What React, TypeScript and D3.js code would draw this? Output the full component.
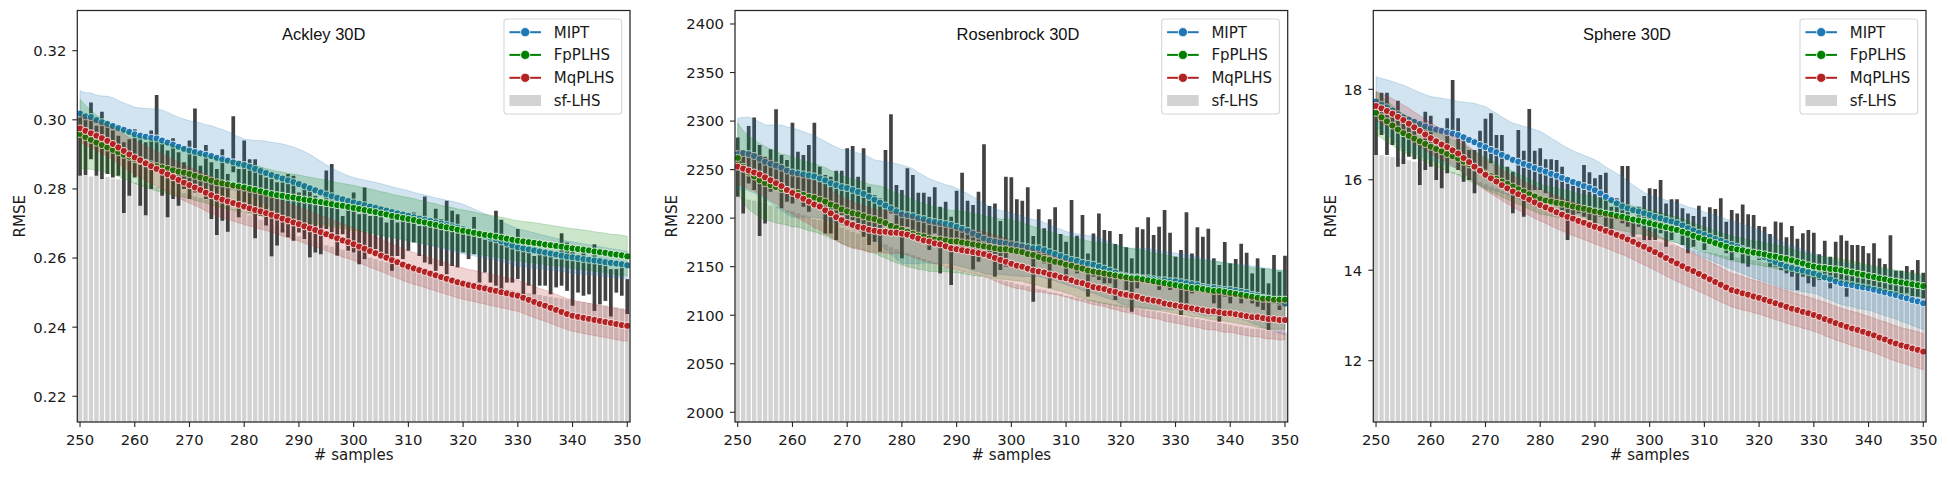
import * as d3 from "d3";

// sample counts on the x axis (categorical, as in a seaborn barplot)
const samples = d3.range(250, 351);
const xTickValues = [250, 260, 270, 280, 290, 300, 310, 320, 330, 340, 350];

// ---------------- Ackley 30D ----------------
const ackleyBar = [
  0.2838, 0.2840, 0.2836, 0.2838, 0.2832, 0.2835, 0.2830, 0.2828, 0.2826, 0.2822,
  0.2818, 0.2815, 0.2812, 0.2810, 0.2806, 0.2803, 0.2800, 0.2796, 0.2792, 0.2788,
  0.2782, 0.2778, 0.2774, 0.2769, 0.2763, 0.2757, 0.2752, 0.2747, 0.2741, 0.2736,
  0.2730, 0.2724, 0.2717, 0.2711, 0.2703, 0.2697, 0.2690, 0.2684, 0.2677, 0.2670,
  0.2663, 0.2657, 0.2652, 0.2647, 0.2642, 0.2637, 0.2633, 0.2628, 0.2624, 0.2619,
  0.2614, 0.2610, 0.2605, 0.2601, 0.2597, 0.2592, 0.2588, 0.2584, 0.2580, 0.2576,
  0.2572, 0.2568, 0.2565, 0.2561, 0.2558, 0.2554, 0.2551, 0.2547, 0.2544, 0.2540,
  0.2537, 0.2534, 0.2530, 0.2527, 0.2524, 0.2520, 0.2517, 0.2514, 0.2510, 0.2507,
  0.2503, 0.2500, 0.2498, 0.2495, 0.2493, 0.2490, 0.2488, 0.2485, 0.2483, 0.2480,
  0.2478, 0.2475, 0.2473, 0.2470, 0.2468, 0.2465, 0.2463, 0.2460, 0.2458, 0.2455,
  0.2450,
];
const ackleyErrHi = [
  0.3016, 0.3002, 0.3050, 0.2983, 0.3023, 0.2983, 0.2969, 0.2954, 0.2935, 0.2944,
  0.2973, 0.2944, 0.2935, 0.2969, 0.3072, 0.2930, 0.2911, 0.2947, 0.2906, 0.2877,
  0.2940, 0.3033, 0.2867, 0.2927, 0.2877, 0.2858, 0.2915, 0.2843, 0.3010, 0.2858,
  0.2940, 0.2886, 0.2886, 0.2858, 0.2833, 0.2829, 0.2819, 0.2819, 0.2843, 0.2838,
  0.2790, 0.2809, 0.2800, 0.2780, 0.2751, 0.2853, 0.2872, 0.2761, 0.2722, 0.2751,
  0.2790, 0.2727, 0.2804, 0.2722, 0.2722, 0.2722, 0.2703, 0.2713, 0.2703, 0.2734,
  0.2713, 0.2732, 0.2693, 0.2778, 0.2693, 0.2743, 0.2713, 0.2766, 0.2737, 0.2727,
  0.2688, 0.2684, 0.2719, 0.2679, 0.2669, 0.2674, 0.2737, 0.2711, 0.2655, 0.2640,
  0.2684, 0.2626, 0.2621, 0.2606, 0.2611, 0.2616, 0.2606, 0.2597, 0.2672, 0.2645,
  0.2626, 0.2592, 0.2635, 0.2587, 0.2640, 0.2587, 0.2577, 0.2568, 0.2568, 0.2573,
  0.2539,
];
const ackleyErrLo = [
  0.2838, 0.2840, 0.2886, 0.2838, 0.2829, 0.2843, 0.2833, 0.2838, 0.2730, 0.2780,
  0.2833, 0.2751, 0.2724, 0.2800, 0.2858, 0.2780, 0.2718, 0.2771, 0.2751, 0.2800,
  0.2771, 0.2790, 0.2790, 0.2771, 0.2713, 0.2667, 0.2708, 0.2676, 0.2848, 0.2718,
  0.2761, 0.2732, 0.2657, 0.2722, 0.2694, 0.2605, 0.2636, 0.2674, 0.2660, 0.2650,
  0.2674, 0.2655, 0.2602, 0.2616, 0.2611, 0.2684, 0.2674, 0.2607, 0.2669, 0.2621,
  0.2616, 0.2582, 0.2597, 0.2616, 0.2626, 0.2611, 0.2597, 0.2563, 0.2606, 0.2597,
  0.2621, 0.2645, 0.2606, 0.2587, 0.2582, 0.2563, 0.2577, 0.2553, 0.2577, 0.2573,
  0.2616, 0.2597, 0.2611, 0.2529, 0.2558, 0.2529, 0.2520, 0.2510, 0.2529, 0.2529,
  0.2539, 0.2495, 0.2520, 0.2495, 0.2520, 0.2520, 0.2495, 0.2515, 0.2520, 0.2505,
  0.2462, 0.2500, 0.2491, 0.2495, 0.2447, 0.2466, 0.2476, 0.2431, 0.2500, 0.2491,
  0.2438,
];
const ackleyMipt = [
  0.3018, 0.3010, 0.3008, 0.2999, 0.2993, 0.2988, 0.2982, 0.2976, 0.2971, 0.2965,
  0.2958, 0.2954, 0.2951, 0.2948, 0.2946, 0.2940, 0.2934, 0.2928, 0.2922, 0.2916,
  0.2911, 0.2907, 0.2903, 0.2899, 0.2895, 0.2890, 0.2886, 0.2882, 0.2877, 0.2873,
  0.2869, 0.2864, 0.2858, 0.2852, 0.2846, 0.2840, 0.2835, 0.2830, 0.2825, 0.2820,
  0.2814, 0.2808, 0.2802, 0.2796, 0.2790, 0.2784, 0.2779, 0.2774, 0.2770, 0.2765,
  0.2761, 0.2757, 0.2753, 0.2749, 0.2745, 0.2741, 0.2737, 0.2733, 0.2729, 0.2726,
  0.2722, 0.2718, 0.2714, 0.2711, 0.2707, 0.2703, 0.2700, 0.2696, 0.2692, 0.2688,
  0.2684, 0.2679, 0.2674, 0.2669, 0.2664, 0.2659, 0.2654, 0.2648, 0.2642, 0.2636,
  0.2631, 0.2628, 0.2625, 0.2622, 0.2619, 0.2616, 0.2613, 0.2610, 0.2607, 0.2604,
  0.2602, 0.2600, 0.2597, 0.2595, 0.2593, 0.2591, 0.2588, 0.2586, 0.2584, 0.2582,
  0.2579,
];
const ackleyMiptCi = [
  0.0066, 0.0068, 0.0070, 0.0072, 0.0076, 0.0080, 0.0082, 0.0080, 0.0078, 0.0078,
  0.0078, 0.0080, 0.0082, 0.0084, 0.0086, 0.0088, 0.0088, 0.0086, 0.0085, 0.0086,
  0.0086, 0.0087, 0.0088, 0.0087, 0.0088, 0.0087, 0.0086, 0.0084, 0.0080, 0.0078,
  0.0075, 0.0078, 0.0082, 0.0088, 0.0092, 0.0095, 0.0098, 0.0100, 0.0101, 0.0101,
  0.0101, 0.0100, 0.0098, 0.0094, 0.0090, 0.0086, 0.0082, 0.0078, 0.0075, 0.0073,
  0.0072, 0.0072, 0.0073, 0.0073, 0.0074, 0.0074, 0.0074, 0.0073, 0.0073, 0.0073,
  0.0073, 0.0072, 0.0072, 0.0072, 0.0071, 0.0071, 0.0071, 0.0071, 0.0072, 0.0072,
  0.0072, 0.0070, 0.0068, 0.0066, 0.0064, 0.0062, 0.0060, 0.0058, 0.0056, 0.0055,
  0.0054, 0.0053, 0.0052, 0.0051, 0.0050, 0.0049, 0.0048, 0.0047, 0.0046, 0.0045,
  0.0045, 0.0044, 0.0044, 0.0043, 0.0043, 0.0042, 0.0042, 0.0041, 0.0041, 0.0040,
  0.0040,
];
const ackleyFp = [
  0.2959, 0.2950, 0.2942, 0.2934, 0.2927, 0.2920, 0.2913, 0.2906, 0.2899, 0.2893,
  0.2886, 0.2881, 0.2876, 0.2871, 0.2866, 0.2862, 0.2858, 0.2854, 0.2850, 0.2847,
  0.2843, 0.2838, 0.2833, 0.2829, 0.2824, 0.2819, 0.2816, 0.2813, 0.2810, 0.2807,
  0.2804, 0.2800, 0.2797, 0.2793, 0.2789, 0.2785, 0.2782, 0.2780, 0.2777, 0.2775,
  0.2772, 0.2769, 0.2767, 0.2764, 0.2762, 0.2759, 0.2756, 0.2753, 0.2751, 0.2748,
  0.2745, 0.2742, 0.2739, 0.2736, 0.2733, 0.2729, 0.2726, 0.2722, 0.2719, 0.2716,
  0.2713, 0.2710, 0.2706, 0.2703, 0.2699, 0.2696, 0.2692, 0.2689, 0.2686, 0.2682,
  0.2679, 0.2676, 0.2673, 0.2670, 0.2667, 0.2665, 0.2662, 0.2659, 0.2656, 0.2653,
  0.2650, 0.2648, 0.2646, 0.2644, 0.2642, 0.2639, 0.2637, 0.2635, 0.2633, 0.2630,
  0.2628, 0.2626, 0.2624, 0.2622, 0.2619, 0.2617, 0.2615, 0.2612, 0.2610, 0.2608,
  0.2605,
];
const ackleyFpCi = [
  0.0100, 0.0092, 0.0085, 0.0080, 0.0076, 0.0073, 0.0071, 0.0070, 0.0070, 0.0070,
  0.0070, 0.0071, 0.0071, 0.0072, 0.0072, 0.0072, 0.0072, 0.0072, 0.0071, 0.0071,
  0.0071, 0.0071, 0.0070, 0.0070, 0.0070, 0.0070, 0.0070, 0.0071, 0.0071, 0.0072,
  0.0072, 0.0072, 0.0071, 0.0071, 0.0070, 0.0070, 0.0069, 0.0069, 0.0068, 0.0068,
  0.0068, 0.0068, 0.0067, 0.0067, 0.0066, 0.0066, 0.0066, 0.0065, 0.0065, 0.0065,
  0.0065, 0.0064, 0.0064, 0.0064, 0.0063, 0.0063, 0.0063, 0.0062, 0.0062, 0.0062,
  0.0062, 0.0062, 0.0061, 0.0061, 0.0061, 0.0061, 0.0060, 0.0060, 0.0060, 0.0060,
  0.0060, 0.0060, 0.0060, 0.0059, 0.0059, 0.0059, 0.0059, 0.0059, 0.0059, 0.0058,
  0.0058, 0.0058, 0.0058, 0.0058, 0.0058, 0.0058, 0.0058, 0.0057, 0.0057, 0.0057,
  0.0057, 0.0057, 0.0057, 0.0057, 0.0057, 0.0057, 0.0057, 0.0057, 0.0058, 0.0058,
  0.0058,
];
const ackleyMq = [
  0.2975, 0.2968, 0.2961, 0.2954, 0.2947, 0.2939, 0.2930, 0.2920, 0.2910, 0.2900,
  0.2891, 0.2883, 0.2874, 0.2866, 0.2858, 0.2850, 0.2842, 0.2834, 0.2826, 0.2818,
  0.2811, 0.2804, 0.2797, 0.2789, 0.2782, 0.2775, 0.2769, 0.2764, 0.2759, 0.2754,
  0.2749, 0.2744, 0.2739, 0.2735, 0.2730, 0.2725, 0.2720, 0.2714, 0.2709, 0.2703,
  0.2698, 0.2692, 0.2686, 0.2681, 0.2675, 0.2669, 0.2663, 0.2657, 0.2651, 0.2646,
  0.2640, 0.2633, 0.2627, 0.2620, 0.2614, 0.2607, 0.2601, 0.2594, 0.2588, 0.2581,
  0.2575, 0.2570, 0.2565, 0.2560, 0.2555, 0.2550, 0.2545, 0.2540, 0.2535, 0.2530,
  0.2526, 0.2522, 0.2519, 0.2515, 0.2512, 0.2508, 0.2505, 0.2501, 0.2498, 0.2494,
  0.2491, 0.2485, 0.2479, 0.2473, 0.2467, 0.2462, 0.2456, 0.2450, 0.2444, 0.2438,
  0.2433, 0.2430, 0.2427, 0.2424, 0.2421, 0.2418, 0.2415, 0.2412, 0.2409, 0.2406,
  0.2404,
];
const ackleyMqCi = [
  0.0040, 0.0041, 0.0042, 0.0043, 0.0044, 0.0045, 0.0046, 0.0047, 0.0048, 0.0048,
  0.0049, 0.0049, 0.0050, 0.0050, 0.0050, 0.0051, 0.0051, 0.0051, 0.0052, 0.0052,
  0.0052, 0.0052, 0.0052, 0.0053, 0.0053, 0.0053, 0.0053, 0.0052, 0.0052, 0.0052,
  0.0052, 0.0051, 0.0051, 0.0051, 0.0050, 0.0050, 0.0050, 0.0050, 0.0049, 0.0049,
  0.0049, 0.0049, 0.0049, 0.0048, 0.0048, 0.0048, 0.0048, 0.0048, 0.0048, 0.0047,
  0.0047, 0.0047, 0.0047, 0.0047, 0.0047, 0.0046, 0.0046, 0.0046, 0.0046, 0.0046,
  0.0046, 0.0046, 0.0045, 0.0045, 0.0045, 0.0045, 0.0045, 0.0045, 0.0045, 0.0045,
  0.0045, 0.0045, 0.0045, 0.0045, 0.0045, 0.0045, 0.0045, 0.0045, 0.0045, 0.0045,
  0.0045, 0.0045, 0.0045, 0.0045, 0.0045, 0.0045, 0.0045, 0.0045, 0.0045, 0.0045,
  0.0045, 0.0045, 0.0045, 0.0045, 0.0045, 0.0045, 0.0045, 0.0045, 0.0045, 0.0045,
  0.0045,
];
const ackleyTicks = [0.22, 0.24, 0.26, 0.28, 0.3, 0.32];

// ---------------- Rosenbrock 30D ----------------
const rosenBar = [
  2222, 2221, 2219, 2218, 2216, 2215, 2213, 2212, 2210, 2208,
  2207, 2205, 2203, 2201, 2199, 2198, 2196, 2194, 2192, 2190,
  2188, 2186, 2184, 2182, 2179, 2177, 2175, 2173, 2170, 2168,
  2166, 2164, 2162, 2160, 2158, 2156, 2154, 2152, 2150, 2148,
  2146, 2145, 2143, 2142, 2141, 2139, 2138, 2137, 2136, 2135,
  2134, 2132, 2131, 2130, 2128, 2127, 2126, 2124, 2123, 2122,
  2120, 2119, 2118, 2117, 2116, 2115, 2114, 2113, 2112, 2111,
  2110, 2109, 2108, 2107, 2106, 2105, 2104, 2103, 2102, 2101,
  2100, 2099, 2098, 2097, 2096, 2095, 2094, 2093, 2092, 2091,
  2090, 2089, 2088, 2087, 2086, 2086, 2085, 2084, 2083, 2083,
  2082,
];
const rosenErrHi = [
  2283.2, 2266.7, 2294.9, 2303.8, 2275.3, 2263.3, 2270.9, 2312.1, 2265.0, 2259.9,
  2298.3, 2268.5, 2265.0, 2275.3, 2298.3, 2253.0, 2244.4, 2242.7, 2248.9, 2248.9,
  2271.9, 2274.3, 2242.7, 2271.9, 2232.4, 2223.8, 2220.4, 2270.2, 2306.9, 2234.1,
  2229.0, 2251.3, 2244.4, 2226.2, 2226.2, 2222.1, 2231.7, 2211.8, 2216.9, 2201.5,
  2228.3, 2246.8, 2218.0, 2213.5, 2227.3, 2276.0, 2212.5, 2215.2, 2197.0, 2242.7,
  2242.0, 2219.4, 2218.0, 2231.7, 2181.6, 2209.1, 2189.5, 2198.8, 2211.1, 2183.7,
  2175.8, 2218.7, 2181.9, 2203.2, 2163.7, 2184.3, 2204.9, 2187.8, 2186.7, 2173.3,
  2183.7, 2169.9, 2158.6, 2190.5, 2188.5, 2200.8, 2182.6, 2191.2, 2208.4, 2185.0,
  2160.3, 2167.2, 2206.0, 2163.7, 2190.5, 2180.9, 2189.1, 2158.6, 2151.7, 2175.4,
  2153.4, 2157.9, 2173.7, 2164.4, 2143.1, 2158.6, 2148.3, 2132.8, 2162.0, 2144.8,
  2161.3,
];
const rosenErrLo = [
  2222.1, 2204.9, 2235.8, 2229.0, 2181.6, 2194.6, 2227.3, 2229.0, 2210.1, 2216.9,
  2215.2, 2218.7, 2211.8, 2206.7, 2218.7, 2211.8, 2184.3, 2184.3, 2177.5, 2203.2,
  2191.2, 2198.1, 2191.2, 2180.9, 2172.3, 2175.7, 2165.5, 2198.1, 2204.9, 2184.3,
  2158.6, 2191.2, 2187.8, 2184.3, 2177.5, 2167.2, 2184.3, 2143.1, 2177.5, 2131.1,
  2172.3, 2163.7, 2170.6, 2147.2, 2155.1, 2170.6, 2160.3, 2139.7, 2146.6, 2150.0,
  2174.0, 2168.9, 2170.6, 2170.6, 2113.9, 2156.9, 2153.4, 2127.7, 2156.9, 2153.4,
  2139.7, 2151.7, 2143.1, 2146.6, 2119.1, 2139.7, 2136.3, 2132.8, 2132.8, 2115.7,
  2139.7, 2126.0, 2103.6, 2127.7, 2139.7, 2139.7, 2139.7, 2126.0, 2136.3, 2126.0,
  2132.8, 2100.2, 2112.2, 2122.5, 2126.0, 2132.8, 2126.0, 2112.2, 2093.3, 2119.1,
  2112.2, 2122.5, 2112.2, 2122.5, 2112.2, 2108.8, 2105.4, 2084.8, 2112.2, 2105.4,
  2119.1,
];
const rosenMipt = [
  2266, 2267, 2266, 2264, 2261, 2258, 2256, 2254, 2252, 2249,
  2247, 2246, 2245, 2244, 2243, 2241, 2239, 2236, 2234, 2232,
  2231, 2229, 2227, 2225, 2222, 2219, 2216, 2213, 2210, 2207,
  2204, 2203, 2202, 2200, 2199, 2197, 2196, 2195, 2194, 2193,
  2191, 2189, 2187, 2184, 2182, 2179, 2177, 2176, 2175, 2174,
  2173, 2172, 2171, 2170, 2169, 2169, 2167, 2165, 2163, 2161,
  2159, 2157, 2156, 2154, 2153, 2152, 2150, 2148, 2146, 2144,
  2141, 2140, 2139, 2139, 2138, 2138, 2137, 2136, 2136, 2135,
  2135, 2134, 2133, 2132, 2131, 2129, 2128, 2128, 2127, 2126,
  2126, 2125, 2124, 2123, 2121, 2120, 2118, 2117, 2115, 2114,
  2112,
];
const rosenMiptCi = [
  37, 37, 38, 38, 38, 38, 40, 42, 44, 45,
  46, 45, 44, 43, 42, 41, 40, 40, 39, 39,
  39.5, 40, 40, 40.5, 41, 41, 43, 45, 47, 49,
  50.5, 50, 49, 47, 45, 43.6, 42.5, 41.5, 40.5, 40,
  39.7, 39, 38.5, 38, 37, 36, 35, 34, 33, 32.5,
  32.2, 31.5, 31, 30, 29.5, 29, 28.5, 28, 27.5, 27.5,
  27.4, 27.5, 28, 28.5, 29, 29.3, 29.5, 29.5, 29.3, 29.2,
  29.2, 29.5, 30, 30.3, 30.6, 30.9, 30.5, 30, 29.6, 29.3,
  29.2, 29, 29, 29.1, 29.2, 29.2, 29, 28.5, 28, 27.6,
  27.4, 27.8, 28.2, 28.8, 29.5, 30.2, 30.8, 31.4, 31.9, 32.3,
  32.6,
];
const rosenFp = [
  2262, 2253, 2247, 2243, 2239, 2236, 2234, 2232, 2230, 2229,
  2227, 2226, 2224, 2222, 2221, 2219, 2217, 2214, 2212, 2209,
  2207, 2205, 2204, 2202, 2200, 2199, 2197, 2195, 2192, 2190,
  2188, 2186, 2184, 2182, 2181, 2179, 2178, 2178, 2177, 2176,
  2176, 2175, 2174, 2173, 2172, 2171, 2170, 2169, 2168, 2168,
  2167, 2166, 2165, 2163, 2162, 2160, 2158, 2157, 2155, 2154,
  2152, 2151, 2149, 2148, 2146, 2145, 2144, 2143, 2142, 2141,
  2140, 2139, 2138, 2138, 2137, 2136, 2135, 2134, 2133, 2132,
  2131, 2130, 2129, 2128, 2128, 2127, 2126, 2125, 2125, 2124,
  2123, 2122, 2121, 2120, 2119, 2118, 2117, 2117, 2116, 2116,
  2116,
];
const rosenFpCi = [
  36, 37, 38, 38, 38, 38, 37, 37, 36, 36,
  36, 35, 35, 35, 35, 35, 35, 35, 35, 35,
  35, 35, 35, 35, 35, 35, 36, 36, 36, 36,
  36, 36, 35, 35, 34, 34, 33, 33, 32, 32,
  32, 32, 32, 32, 31.5, 31.5, 31.5, 31, 31, 31,
  31, 30.5, 30, 30, 29.5, 29.5, 29, 29, 29, 29,
  29, 29.5, 30, 30, 30.5, 30.5, 31, 31, 31, 31,
  31, 30.5, 30.5, 30, 30, 29.5, 29.5, 29, 29, 29,
  29, 29, 29, 29.5, 29.5, 29.5, 30, 30, 30, 30,
  30, 30, 30, 30, 30, 30.5, 30.5, 30.5, 30.5, 30.5,
  30.5,
];
const rosenMq = [
  2253, 2251, 2249, 2247, 2245, 2242, 2239, 2236, 2233, 2229,
  2226, 2223, 2220, 2217, 2214, 2212, 2208, 2205, 2201, 2198,
  2195, 2193, 2191, 2190, 2188, 2187, 2186, 2186, 2185, 2185,
  2184, 2183, 2181, 2179, 2177, 2176, 2174, 2173, 2171, 2169,
  2168, 2167, 2166, 2165, 2164, 2163, 2161, 2159, 2157, 2155,
  2153, 2151, 2150, 2148, 2146, 2145, 2144, 2142, 2141, 2139,
  2138, 2136, 2134, 2133, 2131, 2129, 2128, 2127, 2125, 2124,
  2122, 2121, 2120, 2119, 2117, 2116, 2115, 2114, 2112, 2111,
  2110, 2109, 2108, 2107, 2106, 2105, 2104, 2104, 2103, 2102,
  2102, 2101, 2100, 2099, 2098, 2098, 2097, 2096, 2096, 2095,
  2095,
];
const rosenMqCi = [
  18, 18, 19, 19, 20, 20, 21, 21, 22, 22,
  22, 23, 23, 23, 24, 24, 24, 24, 24, 24,
  24, 24, 23, 23, 23, 22, 22, 22, 22, 21,
  21, 21, 21, 21, 21, 21, 21, 21, 21, 21,
  21, 21.5, 22, 22, 22.5, 23, 23, 23.5, 24, 24,
  24, 23.5, 23, 22.5, 22, 21, 20.5, 20, 19.5, 19,
  19, 19, 18.5, 18.5, 18.5, 18, 18, 18, 18, 18,
  18, 18, 18, 18, 18, 18, 18, 18, 18, 18,
  18, 18, 18.5, 18.5, 18.5, 19, 19, 19, 19.5, 19.5,
  19.5, 19.5, 20, 20, 20, 20, 20.5, 20.5, 20.5, 20.5,
  20.5,
];
const rosenTicks = [2000, 2050, 2100, 2150, 2200, 2250, 2300, 2350, 2400];

// ---------------- Sphere 30D ----------------
const sphereBar = [
  16.55, 16.54, 16.52, 16.50, 16.48, 16.46, 16.43, 16.40, 16.38, 16.35,
  16.32, 16.29, 16.25, 16.21, 16.17, 16.13, 16.09, 16.04, 16.00, 15.95,
  15.90, 15.85, 15.80, 15.75, 15.70, 15.65, 15.61, 15.57, 15.53, 15.49,
  15.45, 15.40, 15.35, 15.30, 15.25, 15.20, 15.15, 15.11, 15.07, 15.02,
  14.98, 14.95, 14.92, 14.88, 14.85, 14.82, 14.79, 14.76, 14.73, 14.70,
  14.68, 14.65, 14.62, 14.59, 14.56, 14.53, 14.50, 14.47, 14.45, 14.43,
  14.41, 14.39, 14.37, 14.34, 14.32, 14.30, 14.28, 14.26, 14.24, 14.22,
  14.20, 14.17, 14.14, 14.11, 14.08, 14.05, 14.02, 13.99, 13.96, 13.93,
  13.90, 13.87, 13.85, 13.82, 13.80, 13.77, 13.75, 13.72, 13.70, 13.67,
  13.65, 13.62, 13.60, 13.57, 13.55, 13.52, 13.50, 13.47, 13.45, 13.42,
  13.40,
];
const sphereErrHi = [
  17.690, 17.926, 17.926, 17.543, 17.749, 17.321, 17.248, 17.174, 16.879, 17.506,
  17.417, 16.806, 16.806, 17.358, 18.206, 17.358, 16.879, 16.658, 16.658, 17.086,
  17.351, 17.469, 16.990, 16.990, 16.290, 16.179, 17.100, 16.643, 17.565, 16.643,
  16.695, 16.452, 16.452, 16.437, 16.290, 15.921, 15.958, 15.847, 16.327, 16.164,
  16.032, 16.105, 16.157, 15.405, 15.589, 16.304, 16.304, 15.184, 15.405, 15.641,
  15.811, 15.795, 15.994, 15.478, 15.567, 15.567, 15.368, 15.257, 15.198, 15.427,
  15.184, 15.390, 15.353, 15.589, 15.073, 15.331, 15.257, 15.456, 15.235, 15.220,
  14.977, 14.962, 14.800, 15.080, 15.058, 14.727, 14.977, 14.697, 14.815, 14.889,
  14.830, 14.351, 14.653, 14.299, 14.631, 14.771, 14.653, 14.557, 14.557, 14.535,
  14.373, 14.594, 14.262, 14.137, 14.771, 13.990, 13.990, 14.093, 14.004, 14.225,
  13.945,
];
const sphereErrLo = [
  16.548, 16.990, 16.548, 16.769, 16.290, 16.349, 16.511, 16.452, 15.884, 16.216,
  16.290, 15.995, 15.811, 16.142, 17.063, 16.216, 15.958, 15.995, 15.700, 16.290,
  16.142, 16.363, 15.995, 15.847, 15.847, 15.258, 15.847, 15.184, 15.700, 15.774,
  15.774, 15.700, 15.553, 15.479, 15.332, 14.668, 15.184, 15.258, 15.184, 15.110,
  14.963, 15.184, 14.963, 14.816, 15.110, 15.037, 14.963, 14.742, 14.963, 14.668,
  14.668, 14.668, 14.815, 14.520, 14.668, 14.815, 14.557, 14.373, 14.520, 14.668,
  14.447, 14.594, 14.520, 14.668, 14.373, 14.225, 14.373, 14.152, 14.078, 14.373,
  14.225, 14.225, 14.078, 14.078, 14.004, 13.931, 13.857, 13.562, 13.857, 13.710,
  13.636, 13.783, 13.783, 13.599, 13.710, 13.636, 13.415, 13.710, 13.636, 13.636,
  13.636, 13.562, 13.562, 13.488, 13.562, 13.415, 13.488, 13.488, 13.415, 13.415,
  13.378,
];
const sphereMipt = [
  17.73, 17.66, 17.60, 17.53, 17.45, 17.38, 17.33, 17.28, 17.23, 17.18,
  17.14, 17.11, 17.08, 17.05, 17.02, 16.99, 16.94, 16.88, 16.83, 16.77,
  16.72, 16.66, 16.61, 16.55, 16.50, 16.44, 16.40, 16.35, 16.31, 16.26,
  16.22, 16.18, 16.13, 16.09, 16.04, 16.00, 15.95, 15.91, 15.86, 15.82,
  15.77, 15.70, 15.62, 15.55, 15.48, 15.41, 15.37, 15.33, 15.30, 15.26,
  15.22, 15.18, 15.15, 15.11, 15.08, 15.04, 14.99, 14.93, 14.88, 14.83,
  14.78, 14.74, 14.69, 14.65, 14.60, 14.56, 14.52, 14.47, 14.43, 14.38,
  14.34, 14.29, 14.24, 14.18, 14.13, 14.08, 14.05, 14.02, 13.99, 13.96,
  13.93, 13.89, 13.84, 13.80, 13.75, 13.71, 13.69, 13.67, 13.64, 13.62,
  13.60, 13.57, 13.54, 13.51, 13.48, 13.45, 13.41, 13.38, 13.34, 13.31,
  13.27,
];
const sphereMiptCi = [
  0.55, 0.58, 0.61, 0.64, 0.68, 0.71, 0.71, 0.70, 0.70, 0.70,
  0.70, 0.71, 0.72, 0.73, 0.74, 0.74, 0.78, 0.82, 0.86, 0.88,
  0.90, 0.88, 0.86, 0.84, 0.82, 0.81, 0.82, 0.83, 0.84, 0.85,
  0.85, 0.82, 0.79, 0.76, 0.73, 0.70, 0.69, 0.68, 0.68, 0.67,
  0.67, 0.67, 0.66, 0.66, 0.66, 0.66, 0.60, 0.55, 0.50, 0.46,
  0.44, 0.44, 0.44, 0.44, 0.44, 0.44, 0.46, 0.47, 0.49, 0.50,
  0.51, 0.51, 0.52, 0.52, 0.53, 0.53, 0.54, 0.54, 0.55, 0.55,
  0.55, 0.54, 0.53, 0.52, 0.51, 0.50, 0.49, 0.48, 0.46, 0.45,
  0.44, 0.44, 0.45, 0.45, 0.46, 0.46, 0.47, 0.47, 0.48, 0.48,
  0.48, 0.49, 0.50, 0.51, 0.52, 0.53, 0.54, 0.55, 0.56, 0.57,
  0.58,
];
const sphereFp = [
  17.48, 17.38, 17.29, 17.20, 17.11, 17.03, 16.97, 16.91, 16.85, 16.79,
  16.73, 16.68, 16.63, 16.57, 16.52, 16.47, 16.40, 16.34, 16.27, 16.21,
  16.14, 16.08, 16.02, 15.96, 15.91, 15.85, 15.79, 15.74, 15.68, 15.63,
  15.57, 15.54, 15.52, 15.49, 15.47, 15.44, 15.41, 15.38, 15.36, 15.33,
  15.30, 15.28, 15.25, 15.23, 15.20, 15.18, 15.15, 15.12, 15.10, 15.07,
  15.04, 15.01, 14.98, 14.95, 14.92, 14.89, 14.85, 14.81, 14.76, 14.72,
  14.68, 14.64, 14.60, 14.56, 14.52, 14.48, 14.46, 14.44, 14.41, 14.39,
  14.37, 14.35, 14.32, 14.30, 14.27, 14.25, 14.22, 14.18, 14.15, 14.11,
  14.08, 14.06, 14.05, 14.03, 14.02, 14.00, 13.97, 13.95, 13.92, 13.90,
  13.87, 13.85, 13.82, 13.80, 13.77, 13.75, 13.73, 13.71, 13.69, 13.67,
  13.65,
];
const sphereFpCi = [
  0.47, 0.46, 0.45, 0.44, 0.43, 0.42, 0.41, 0.40, 0.40, 0.39,
  0.39, 0.38, 0.38, 0.37, 0.37, 0.36, 0.36, 0.36, 0.35, 0.35,
  0.35, 0.35, 0.34, 0.34, 0.34, 0.34, 0.33, 0.33, 0.33, 0.33,
  0.33, 0.32, 0.32, 0.32, 0.32, 0.32, 0.31, 0.31, 0.31, 0.31,
  0.31, 0.31, 0.30, 0.30, 0.30, 0.30, 0.30, 0.30, 0.29, 0.29,
  0.29, 0.29, 0.29, 0.29, 0.28, 0.28, 0.28, 0.28, 0.28, 0.28,
  0.28, 0.27, 0.27, 0.27, 0.27, 0.27, 0.27, 0.27, 0.26, 0.26,
  0.26, 0.26, 0.26, 0.26, 0.26, 0.26, 0.26, 0.25, 0.25, 0.25,
  0.25, 0.25, 0.25, 0.25, 0.25, 0.25, 0.25, 0.25, 0.25, 0.25,
  0.25, 0.25, 0.25, 0.25, 0.25, 0.25, 0.25, 0.25, 0.25, 0.25,
  0.25,
];
const sphereMq = [
  17.63, 17.58, 17.52, 17.46, 17.39, 17.32, 17.24, 17.16, 17.08, 17.00,
  16.92, 16.85, 16.78, 16.72, 16.65, 16.58, 16.48, 16.39, 16.29, 16.20,
  16.11, 16.03, 15.96, 15.88, 15.81, 15.74, 15.68, 15.62, 15.56, 15.50,
  15.44, 15.39, 15.34, 15.28, 15.23, 15.18, 15.14, 15.09, 15.05, 15.00,
  14.96, 14.92, 14.87, 14.83, 14.78, 14.74, 14.68, 14.63, 14.57, 14.52,
  14.46, 14.40, 14.34, 14.27, 14.21, 14.15, 14.09, 14.03, 13.98, 13.92,
  13.86, 13.80, 13.74, 13.68, 13.62, 13.56, 13.53, 13.49, 13.46, 13.42,
  13.39, 13.35, 13.31, 13.27, 13.23, 13.19, 13.15, 13.12, 13.08, 13.05,
  13.01, 12.97, 12.92, 12.88, 12.83, 12.79, 12.75, 12.71, 12.68, 12.64,
  12.60, 12.56, 12.51, 12.47, 12.42, 12.38, 12.34, 12.31, 12.27, 12.24,
  12.20,
];
const sphereMqCi = [
  0.32, 0.32, 0.33, 0.33, 0.33, 0.33, 0.34, 0.34, 0.34, 0.34,
  0.34, 0.34, 0.34, 0.34, 0.34, 0.34, 0.34, 0.34, 0.34, 0.34,
  0.34, 0.34, 0.34, 0.34, 0.34, 0.34, 0.35, 0.35, 0.35, 0.35,
  0.35, 0.35, 0.36, 0.36, 0.36, 0.36, 0.37, 0.37, 0.37, 0.37,
  0.38, 0.38, 0.38, 0.38, 0.39, 0.39, 0.39, 0.39, 0.40, 0.40,
  0.40, 0.40, 0.40, 0.40, 0.40, 0.40, 0.39, 0.39, 0.39, 0.39,
  0.38, 0.38, 0.38, 0.38, 0.37, 0.37, 0.37, 0.37, 0.36, 0.36,
  0.36, 0.36, 0.36, 0.36, 0.36, 0.36, 0.36, 0.36, 0.36, 0.36,
  0.36, 0.36, 0.37, 0.37, 0.37, 0.37, 0.37, 0.38, 0.38, 0.38,
  0.38, 0.38, 0.38, 0.39, 0.39, 0.39, 0.39, 0.39, 0.40, 0.40,
  0.40,
];
const sphereTicks = [12, 14, 16, 18];

// ---------------- layout ----------------
const WIDTH = 1949;
const HEIGHT = 482;
const TOP = 10.5;
const BOTTOM = 422;
const FONT = "DejaVu Sans, sans-serif";
const TITLE_FONT = "Liberation Sans, Arial, sans-serif";

const MIPT_COLOR = "#1f77b4";
const FP_COLOR = "#008000";
const MQ_COLOR = "#b22222";
const BAR_COLOR = "#d3d3d3";
const ERR_COLOR = "#424242";

interface Series {
  name: string;
  color: string;
  mean: number[];
  ci: number[];
}

interface Panel {
  key: string;
  title: string;
  titleX: number;
  left: number;
  right: number;
  yDomain: [number, number];
  yTicks: number[];
  yFormat: (v: number) => string;
  ylabelX: number;
  bar: number[];
  errLo: number[];
  errHi: number[];
  series: Series[];
}

const panels: Panel[] = [
  {
    key: "ackley",
    title: "Ackley 30D",
    titleX: 323.7,
    left: 77.3,
    right: 630,
    yDomain: [0.21256, 0.33163],
    yTicks: ackleyTicks,
    yFormat: d3.format(".2f"),
    ylabelX: 25,
    bar: ackleyBar,
    errLo: ackleyErrLo,
    errHi: ackleyErrHi,
    series: [
      { name: "MIPT", color: MIPT_COLOR, mean: ackleyMipt, ci: ackleyMiptCi },
      { name: "FpPLHS", color: FP_COLOR, mean: ackleyFp, ci: ackleyFpCi },
      { name: "MqPLHS", color: MQ_COLOR, mean: ackleyMq, ci: ackleyMqCi },
    ],
  },
  {
    key: "rosen",
    title: "Rosenbrock 30D",
    titleX: 1018,
    left: 735,
    right: 1287.7,
    yDomain: [1990.0, 2413.9],
    yTicks: rosenTicks,
    yFormat: d3.format("d"),
    ylabelX: 677.3,
    bar: rosenBar,
    errLo: rosenErrLo,
    errHi: rosenErrHi,
    series: [
      { name: "MIPT", color: MIPT_COLOR, mean: rosenMipt, ci: rosenMiptCi },
      { name: "FpPLHS", color: FP_COLOR, mean: rosenFp, ci: rosenFpCi },
      { name: "MqPLHS", color: MQ_COLOR, mean: rosenMq, ci: rosenMqCi },
    ],
  },
  {
    key: "sphere",
    title: "Sphere 30D",
    titleX: 1627,
    left: 1373.3,
    right: 1926,
    yDomain: [10.645, 19.742],
    yTicks: sphereTicks,
    yFormat: d3.format("d"),
    ylabelX: 1336,
    bar: sphereBar,
    errLo: sphereErrLo,
    errHi: sphereErrHi,
    series: [
      { name: "MIPT", color: MIPT_COLOR, mean: sphereMipt, ci: sphereMiptCi },
      { name: "FpPLHS", color: FP_COLOR, mean: sphereFp, ci: sphereFpCi },
      { name: "MqPLHS", color: MQ_COLOR, mean: sphereMq, ci: sphereMqCi },
    ],
  },
];

function Legend({ right, series }: { right: number; series: Series[] }) {
  const w = 117.7;
  const h = 95;
  const left = right - 8.3 - w;
  const top = 19;
  const rows = [13.2, 35.9, 58.8, 81.5];
  return (
    <g transform={`translate(${left},${top})`}>
      <rect x={0} y={0} width={w} height={h} rx={3} fill="white" fillOpacity={0.8} stroke="#d6d6d6" strokeWidth={1.1} />
      {series.map((s, i) => (
        <g key={s.name} transform={`translate(0,${rows[i]})`}>
          <line x1={5.4} x2={37} y1={0} y2={0} stroke={s.color} strokeWidth={2} />
          <circle cx={21.2} cy={0} r={4.6} fill={s.color} stroke="white" strokeWidth={0.8} />
          <text x={49.7} y={5.4} fontFamily={FONT} fontSize={15} fill="#1a1a1a">{s.name}</text>
        </g>
      ))}
      <g transform={`translate(0,${rows[3]})`}>
        <rect x={5.4} y={-5.5} width={31.6} height={11} fill={BAR_COLOR} />
        <text x={49.7} y={5.4} fontFamily={FONT} fontSize={15} fill="#1a1a1a">sf-LHS</text>
      </g>
    </g>
  );
}

function PanelView({ p }: { p: Panel }) {
  const x = d3
    .scaleBand<number>()
    .domain(samples)
    .range([p.left, p.right])
    .paddingInner(0.2)
    .paddingOuter(0.1);
  const y = d3.scaleLinear().domain(p.yDomain).range([BOTTOM, TOP]);
  const cx = (s: number) => (x(s) ?? 0) + x.bandwidth() / 2;
  const clipId = `clip-${p.key}`;

  const area = (s: Series) =>
    d3
      .area<number>()
      .x((_, i) => cx(samples[i]))
      .y0((d, i) => y(d - s.ci[i]))
      .y1((d, i) => y(d + s.ci[i]))(s.mean) ?? "";
  const line = d3
    .line<number>()
    .x((_, i) => cx(samples[i]))
    .y((d) => y(d));

  return (
    <g>
      <defs>
        <clipPath id={clipId}>
          <rect x={p.left} y={TOP} width={p.right - p.left} height={BOTTOM - TOP} />
        </clipPath>
      </defs>

      <g clipPath={`url(#${clipId})`}>
        {/* sf-LHS bars */}
        {p.bar.map((v, i) => (
          <rect
            key={`bar-${i}`}
            x={x(samples[i])}
            y={y(v)}
            width={x.bandwidth()}
            height={BOTTOM - y(v)}
            fill={BAR_COLOR}
          />
        ))}
        {/* error bars */}
        {p.errLo.map((lo, i) => (
          <line
            key={`err-${i}`}
            x1={cx(samples[i])}
            x2={cx(samples[i])}
            y1={y(lo)}
            y2={y(p.errHi[i])}
            stroke={ERR_COLOR}
            strokeWidth={3.7}
          />
        ))}
        {/* bands then line + markers, series by series */}
        {p.series.map((s) => (
          <g key={s.name}>
            <path d={area(s)} fill={s.color} fillOpacity={0.2} stroke={s.color} strokeOpacity={0.2} strokeWidth={1} />
            <path d={line(s.mean) ?? ""} fill="none" stroke={s.color} strokeWidth={1.5} />
            {s.mean.map((v, i) => (
              <circle key={i} cx={cx(samples[i])} cy={y(v)} r={3.6} fill={s.color} stroke="white" strokeWidth={0.8} />
            ))}
          </g>
        ))}
      </g>

      {/* frame */}
      <rect x={p.left} y={TOP} width={p.right - p.left} height={BOTTOM - TOP} fill="none" stroke="#262626" strokeWidth={1.25} />

      {/* y axis */}
      {p.yTicks.map((t) => (
        <g key={`yt-${t}`}>
          <line x1={p.left - 5} x2={p.left} y1={y(t)} y2={y(t)} stroke="#262626" strokeWidth={1.1} />
          <text x={p.left - 11} y={y(t) + 5.4} textAnchor="end" fontFamily={FONT} fontSize={14.8} fill="#1a1a1a">
            {p.yFormat(t)}
          </text>
        </g>
      ))}
      <text
        transform={`translate(${p.ylabelX},${(TOP + BOTTOM) / 2}) rotate(-90)`}
        textAnchor="middle"
        fontFamily={FONT}
        fontSize={15}
        fill="#1a1a1a"
      >
        RMSE
      </text>

      {/* x axis */}
      {xTickValues.map((t) => (
        <g key={`xt-${t}`}>
          <line x1={cx(t)} x2={cx(t)} y1={BOTTOM} y2={BOTTOM + 5} stroke="#262626" strokeWidth={1.1} />
          <text x={cx(t)} y={445.3} textAnchor="middle" fontFamily={FONT} fontSize={14.8} fill="#1a1a1a">
            {t}
          </text>
        </g>
      ))}
      <text x={(p.left + p.right) / 2} y={460} textAnchor="middle" fontFamily={FONT} fontSize={15} fill="#1a1a1a">
        # samples
      </text>

      {/* title inside the axes */}
      <text x={p.titleX} y={39.5} textAnchor="middle" fontFamily={TITLE_FONT} fontSize={16.5} fill="#111">
        {p.title}
      </text>

      <Legend right={p.right} series={p.series} />
    </g>
  );
}

export default function App() {
  return (
    <svg
      width={WIDTH}
      height={HEIGHT}
      style={{ position: "absolute", left: 0, top: 0, background: "white" }}
    >
      <rect x={0} y={0} width={WIDTH} height={HEIGHT} fill="white" />
      {panels.map((p) => (
        <PanelView key={p.key} p={p} />
      ))}
    </svg>
  );
}
